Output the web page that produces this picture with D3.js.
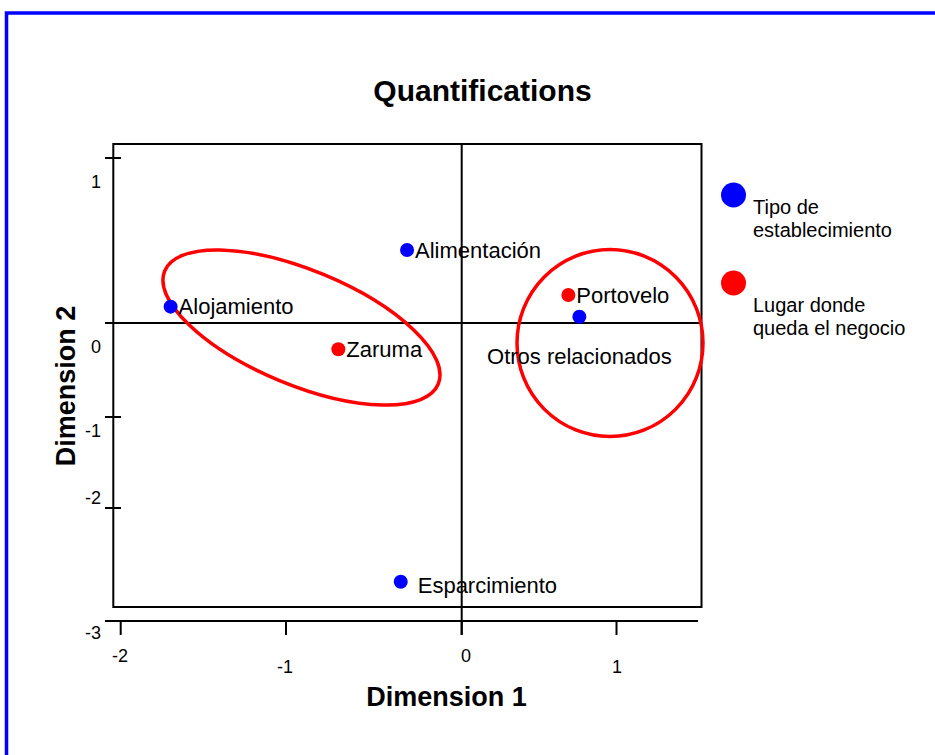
<!DOCTYPE html>
<html>
<head>
<meta charset="utf-8">
<script src="https://cdn.jsdelivr.net/npm/d3@7"></script>
<style>
  html, body { margin: 0; padding: 0; background: #fff; }
  svg { display: block; font-family: "Liberation Sans", Arial, sans-serif; }
</style>
</head>
<body>
<svg id="chart" width="935" height="755"></svg>
<script>
// ---- data ----
const categories = ["Alimentación", "Alojamiento", "Esparcimiento", "Otros relacionados", "Zaruma", "Portovelo"];
const groups = ["Tipo de establecimiento", "Tipo de establecimiento", "Tipo de establecimiento", "Tipo de establecimiento", "Lugar donde queda el negocio", "Lugar donde queda el negocio"];
const dim1 = [-0.311, -1.698, -0.347, 0.760, -0.702, 0.689];
const dim2 = [0.442, 0.099, -2.652, 0.038, -0.280, 0.170];
const xTicks = [-2, -1, 0, 1];
const yTicks = [-3, -2, -1, 0, 1];
const legendLabels = ["Tipo de establecimiento", "Lugar donde queda el negocio"];
const ellipseCenters1 = [-0.912, 0.958];
const ellipseCenters2 = [-0.048, -0.213];

// ---- drawing ----
const svg = d3.select("#chart");
const colors = d3.scaleOrdinal().domain(legendLabels).range(["#0000ff", "#ff0000"]);

// axis scales as drawn in the original output (uneven tick spacing)
const x = d3.scaleLinear().domain([-2, -1, 0, 1]).range([120.7, 286, 461.7, 616.5]);
const y = d3.scaleLinear().domain([-3, -2, -1, 0, 1]).range([621, 508, 417, 323, 158]);
const xLab = d3.scaleLinear().domain([-2, -1, 0, 1]).range([120, 285, 466, 617]);
const yLab = d3.scaleLinear().domain([-3, -2, -1, 0, 1]).range([633, 498, 431, 347, 182]);

const box = { left: 113.3, top: 144, right: 701.5, bottom: 607 };

// outer blue frame
svg.append("rect").attr("x", 6.5).attr("y", 13).attr("width", 1000).attr("height", 1000)
  .attr("fill", "none").attr("stroke", "#0000ff").attr("stroke-width", 3.5);

// title
svg.append("text").attr("x", 482.5).attr("y", 90).attr("dy", "0.35em")
  .attr("text-anchor", "middle").attr("font-weight", "bold").attr("font-size", 30)
  .text("Quantifications");

// plot box
svg.append("rect").attr("x", box.left).attr("y", box.top)
  .attr("width", box.right - box.left).attr("height", box.bottom - box.top)
  .attr("fill", "none").attr("stroke", "#000").attr("stroke-width", 2);

// zero reference lines
svg.append("line").attr("x1", 105).attr("x2", box.right).attr("y1", y(0)).attr("y2", y(0))
  .attr("stroke", "#000").attr("stroke-width", 2);
svg.append("line").attr("x1", x(0)).attr("x2", x(0)).attr("y1", box.top).attr("y2", 635)
  .attr("stroke", "#000").attr("stroke-width", 2);

// x axis
const xAxisY = y(-3);
svg.append("line").attr("x1", 105).attr("x2", 698).attr("y1", xAxisY).attr("y2", xAxisY)
  .attr("stroke", "#000").attr("stroke-width", 2);
svg.selectAll(".xtick").data(xTicks).join("line").attr("class", "xtick")
  .attr("x1", d => x(d)).attr("x2", d => x(d)).attr("y1", xAxisY).attr("y2", 635)
  .attr("stroke", "#000").attr("stroke-width", 2);
svg.selectAll(".xlab").data(xTicks).join("text").attr("class", "xlab")
  .attr("x", d => xLab(d)).attr("y", (d, i) => i % 2 === 0 ? 656 : 667).attr("dy", "0.35em")
  .attr("text-anchor", "middle").attr("font-size", 18).text(d => d);

// y axis ticks (left edge of the box is the axis line)
svg.selectAll(".ytick").data(yTicks.filter(d => d !== -3 && d !== 0)).join("line").attr("class", "ytick")
  .attr("x1", 105).attr("x2", 121).attr("y1", d => y(d)).attr("y2", d => y(d))
  .attr("stroke", "#000").attr("stroke-width", 2);
svg.selectAll(".ylab").data(yTicks).join("text").attr("class", "ylab")
  .attr("x", 101).attr("y", d => yLab(d)).attr("dy", "0.35em")
  .attr("text-anchor", "end").attr("font-size", 18).text(d => d);

// axis titles
svg.append("text").attr("x", 446.5).attr("y", 697).attr("dy", "0.35em")
  .attr("text-anchor", "middle").attr("font-weight", "bold").attr("font-size", 27)
  .text("Dimension 1");
svg.append("text").attr("transform", "translate(66,386) rotate(-90)").attr("dy", "0.35em")
  .attr("text-anchor", "middle").attr("font-weight", "bold").attr("font-size", 27)
  .text("Dimension 2");

// ellipse annotations
const ellipseShapes = [{ rx: 148, ry: 57.4, rot: 22.45 }, { rx: 93, ry: 93.5, rot: 0 }];
svg.selectAll(".ell").data(ellipseCenters1).join("ellipse").attr("class", "ell")
  .attr("cx", 0).attr("cy", 0)
  .attr("rx", (d, i) => ellipseShapes[i].rx).attr("ry", (d, i) => ellipseShapes[i].ry)
  .attr("transform", (d, i) => `translate(${x(d)},${y(ellipseCenters2[i])}) rotate(${ellipseShapes[i].rot})`)
  .attr("fill", "none").attr("stroke", "#ff0000").attr("stroke-width", 3.5);

// points
const pts = categories.map((c, i) => ({ name: c, group: groups[i], d1: dim1[i], d2: dim2[i] }));
svg.selectAll(".pt").data(pts).join("circle").attr("class", "pt")
  .attr("cx", d => x(d.d1)).attr("cy", d => y(d.d2)).attr("r", 7)
  .attr("fill", d => colors(d.group));

const labelOffsets = {
  "Esparcimiento": { dx: 17, dy: 4, anchor: "start" },
  "Otros relacionados": { dx: 0, dy: 40, anchor: "middle" }
};
svg.selectAll(".plab").data(pts).join("text").attr("class", "plab")
  .attr("x", d => x(d.d1) + (labelOffsets[d.name] ? labelOffsets[d.name].dx : 8))
  .attr("y", d => y(d.d2) + (labelOffsets[d.name] ? labelOffsets[d.name].dy : 0))
  .attr("dy", "0.35em")
  .attr("text-anchor", d => labelOffsets[d.name] ? labelOffsets[d.name].anchor : "start")
  .attr("font-size", 22).text(d => d.name);

// legend
const legendLines = [["Tipo de", "establecimiento"], ["Lugar donde", "queda el negocio"]];
const legendDotY = [195, 283];
const legendTextY = [207, 305];
const lg = svg.selectAll(".lg").data(legendLabels).join("g").attr("class", "lg");
lg.append("circle").attr("cx", 733.5).attr("cy", (d, i) => legendDotY[i]).attr("r", 12.5)
  .attr("fill", d => colors(d));
lg.each(function (d, i) {
  const t = d3.select(this).append("text").attr("font-size", 20);
  legendLines[i].forEach((ln, j) => {
    t.append("tspan").attr("x", 753).attr("y", legendTextY[i] + j * 22.5).attr("dy", "0.35em").text(ln);
  });
});
</script>
</body>
</html>
